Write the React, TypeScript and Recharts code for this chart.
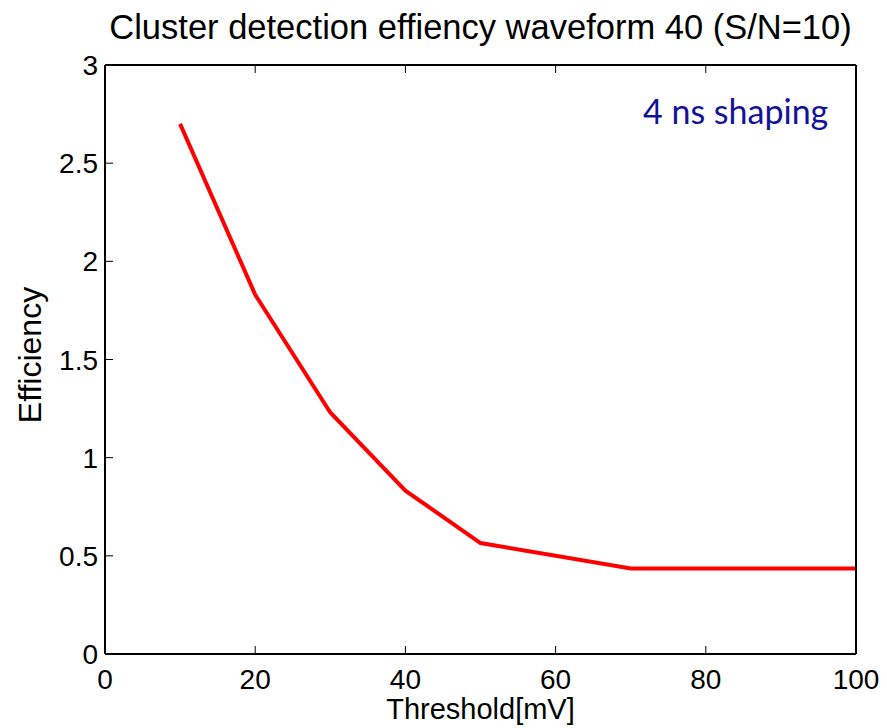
import React from 'react';
import { LineChart, Line, XAxis, YAxis } from 'recharts';

const thresholds = [10, 20, 30, 40, 50, 60, 70, 80, 90, 100];
const efficiency = [2.7, 1.83, 1.23, 0.832, 0.565, 0.5, 0.435, 0.435, 0.435, 0.435];
const xTicks = [0, 20, 40, 60, 80, 100];
const yTicks = [0, 0.5, 1, 1.5, 2, 2.5, 3];
const yTickLabels = ['0', '0.5', '1', '1.5', '2', '2.5', '3'];

const data = thresholds.map((t, i) => ({ t, e: efficiency[i] }));

const FONT = '"Liberation Sans", Arial, Helvetica, sans-serif';
const TICK_LEN = 8;

const BottomTick = (props: any) => {
  const { x, y, payload } = props;
  return (
    <g>
      <line x1={x} y1={y} x2={x} y2={y - TICK_LEN} stroke="#000" strokeWidth={1} />
      <text x={x} y={y + 35} textAnchor="middle" fontFamily={FONT} fontSize={28} fill="#000">
        {payload.value}
      </text>
    </g>
  );
};

const TopTick = (props: any) => {
  const { x, y } = props;
  return <line x1={x} y1={y} x2={x} y2={y + TICK_LEN} stroke="#000" strokeWidth={1} />;
};

const LeftTick = (props: any) => {
  const { x, y, payload } = props;
  const idx = yTicks.indexOf(payload.value);
  return (
    <g>
      <line x1={x} y1={y} x2={x + TICK_LEN} y2={y} stroke="#000" strokeWidth={1} />
      <text x={x - 7} y={y + 10} textAnchor="end" fontFamily={FONT} fontSize={28} fill="#000">
        {idx >= 0 ? yTickLabels[idx] : payload.value}
      </text>
    </g>
  );
};

const RightTick = (props: any) => {
  const { x, y } = props;
  return <line x1={x} y1={y} x2={x - TICK_LEN} y2={y} stroke="#000" strokeWidth={1} />;
};

export default function App() {
  return (
    <div style={{ position: 'absolute', left: 0, top: 0, width: 887, height: 728, background: '#fff' }}>
      <LineChart
        width={887}
        height={728}
        data={data}
        margin={{ top: 55, right: 21, bottom: 34, left: 45 }}
      >
        <XAxis
          xAxisId="b"
          dataKey="t"
          type="number"
          domain={[0, 100]}
          ticks={xTicks}
          height={40}
          tickSize={0}
          tickMargin={0}
          tickLine={false}
          axisLine={{ stroke: '#000', strokeWidth: 2 }}
          tick={<BottomTick />}
          interval={0}
        />
        <XAxis
          xAxisId="t"
          orientation="top"
          dataKey="t"
          type="number"
          domain={[0, 100]}
          ticks={xTicks}
          height={10}
          tickSize={0}
          tickMargin={0}
          tickLine={false}
          axisLine={{ stroke: '#000', strokeWidth: 2 }}
          tick={<TopTick />}
          interval={0}
        />
        <YAxis
          yAxisId="l"
          type="number"
          domain={[0, 3]}
          ticks={yTicks}
          width={60}
          tickSize={0}
          tickMargin={0}
          tickLine={false}
          axisLine={{ stroke: '#000', strokeWidth: 2 }}
          tick={<LeftTick />}
          interval={0}
        />
        <YAxis
          yAxisId="r"
          orientation="right"
          type="number"
          domain={[0, 3]}
          ticks={yTicks}
          width={10}
          tickSize={0}
          tickMargin={0}
          tickLine={false}
          axisLine={{ stroke: '#000', strokeWidth: 2 }}
          tick={<RightTick />}
          interval={0}
        />
        <Line
          xAxisId="b"
          yAxisId="l"
          type="linear"
          dataKey="e"
          stroke="#ff0000"
          strokeWidth={4}
          dot={false}
          activeDot={false}
          isAnimationActive={false}
        />
      </LineChart>
      <div
        style={{
          position: 'absolute', left: 0, width: 961, top: 7, textAlign: 'center',
          fontFamily: FONT, fontSize: 34.5, color: '#000', whiteSpace: 'nowrap', lineHeight: '40px',
        }}
      >
        Cluster detection effiency waveform 40 (S/N=10)
      </div>
      <div
        style={{
          position: 'absolute', left: 0, width: 961, top: 693, textAlign: 'center',
          fontFamily: FONT, fontSize: 29, color: '#000', whiteSpace: 'nowrap', lineHeight: '32px',
        }}
      >
        Threshold[mV]
      </div>
      <div
        style={{
          position: 'absolute', left: 30, top: 355, width: 0, height: 0,
        }}
      >
        <div
          style={{
            position: 'absolute', left: -100, top: -18, width: 200, textAlign: 'center',
            transform: 'rotate(-90deg)', fontFamily: FONT, fontSize: 32, lineHeight: '36px', color: '#000',
          }}
        >
          Efficiency
        </div>
      </div>
      <div
        style={{
          position: 'absolute', left: 643, top: 91, fontFamily: 'Lato, "Open Sans", sans-serif',
          fontSize: 34, color: '#12129a', whiteSpace: 'nowrap', lineHeight: '40px',
        }}
      >
        4 ns shaping
      </div>
    </div>
  );
}
